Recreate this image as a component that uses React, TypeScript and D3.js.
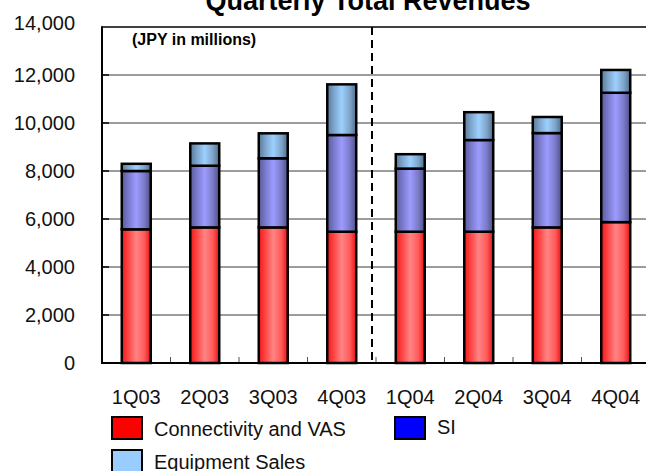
import React from "react";
import * as d3 from "d3";

const categories = ["1Q03", "2Q03", "3Q03", "4Q03", "1Q04", "2Q04", "3Q04", "4Q04"];
const connectivity = [5570, 5650, 5650, 5470, 5470, 5470, 5650, 5870];
const si = [2430, 2570, 2880, 4030, 2630, 3820, 3930, 5390];
const equipment = [300, 930, 1040, 2110, 600, 1160, 670, 950];
const yTicks = [0, 2000, 4000, 6000, 8000, 10000, 12000, 14000];

const seriesNames = ["Connectivity and VAS", "SI", "Equipment Sales"];
const W = 646, H = 471;
const FONT = "'Liberation Sans', Arial, Helvetica, sans-serif";

const gradDefs = [
  { id: "gRed", stops: ["#f01818", "#ff4a4a", "#ff8484", "#ff5a5a", "#e81010"] },
  { id: "gSI", stops: ["#5a5a98", "#7c7cd0", "#9c9cff", "#7a7ac8", "#4e4e88"] },
  { id: "gEq", stops: ["#5a7a98", "#80a8d0", "#9dd0ff", "#7ea4c8", "#4e6e8c"] },
];
const legendColors = ["#ff0000", "#0000ff", "#99ccff"];

export default function App() {
  const left = 102, right = 650, top = 27, bottom = 363;
  const x = d3.scaleBand<string>().domain(categories).range([left, right]).paddingInner(0.577).paddingOuter(0.2885);
  const y = d3.scaleLinear().domain([0, 14000]).range([bottom, top]);
  const data = categories.map((c, i) => ({ cat: c, conn: connectivity[i], si: si[i], eq: equipment[i] }));
  const stack = d3.stack<any>().keys(["conn", "si", "eq"])(data);
  const fills = ["url(#gRed)", "url(#gSI)", "url(#gEq)"];
  const step = x.step();
  const gap = (step - x.bandwidth()) / 2;
  const boundaries = categories.slice(1).map((c) => (x(c) as number) - gap);
  const dashX = (x(categories[4]) as number) - gap - 4;

  return (
    <svg width={W} height={H} style={{ position: "absolute", left: 0, top: 0, background: "#fff" }} fontFamily={FONT}>
      <defs>
        {gradDefs.map((g) => (
          <linearGradient key={g.id} id={g.id} x1="0" x2="1" y1="0" y2="0">
            {g.stops.map((s, i) => (
              <stop key={i} offset={[0, 0.25, 0.5, 0.78, 1][i]} stopColor={s} />
            ))}
          </linearGradient>
        ))}
      </defs>
      <text x={368} y={10} textAnchor="middle" fontSize={27} fontWeight="bold">Quarterly Total Revenues</text>
      {yTicks.filter((t) => t > 0 && t < 14000).map((t) => (
        <line key={t} x1={left} x2={W} y1={y(t)} y2={y(t)} stroke="#3a3a3a" strokeWidth={1} />
      ))}
      {yTicks.filter((t) => t > 0 && t < 14000).map((t) => (
        <line key={"k" + t} x1={left} x2={left + 7} y1={y(t)} y2={y(t)} stroke="#000" strokeWidth={1.5} />
      ))}
      <line x1={left} x2={W} y1={top} y2={top} stroke="#000" strokeWidth={1.5} />
      {boundaries.map((b, i) => (
        <line key={i} x1={b} x2={b} y1={bottom} y2={bottom - 6} stroke="#555" strokeWidth={1} />
      ))}
      <line x1={dashX} x2={dashX} y1={top} y2={bottom} stroke="#000" strokeWidth={2} strokeDasharray="8,5" />
      {stack.map((s, k) => (
        <g key={k}>
          {s.map((d: any, i: number) => (
            <rect key={i} x={x(categories[i])} y={y(d[1])} width={x.bandwidth()} height={y(d[0]) - y(d[1])}
              fill={fills[k]} stroke="#000" strokeWidth={2.5} />
          ))}
        </g>
      ))}
      <line x1={left} x2={left} y1={top - 0.75} y2={bottom + 1} stroke="#000" strokeWidth={2} />
      <line x1={left} x2={W} y1={bottom} y2={bottom} stroke="#000" strokeWidth={2} />
      {yTicks.map((t) => (
        <text key={t} x={75} y={y(t) - (t === 14000 ? 4 : 0)} dy="0.36em" textAnchor="end" fontSize={20} fill="#111">{d3.format(",")(t)}</text>
      ))}
      {categories.map((c) => (
        <text key={c} x={(x(c) as number) + x.bandwidth() / 2} y={397} dy="0.36em" textAnchor="middle" fontSize={20} fill="#111">{c}</text>
      ))}
      <text x={132} y={45} fontSize={16} fontWeight="bold">(JPY in millions)</text>
      {[{ x: 112, y: 417 }, { x: 395, y: 417 }, { x: 112, y: 450 }].map((p, i) => (
        <g key={i}>
          <rect x={p.x} y={p.y} width={30} height={22} fill={legendColors[i]} stroke="#000" strokeWidth={2} />
          <text x={p.x + 42} y={p.y + (i === 1 ? 9.5 : 12)} dy="0.36em" fontSize={20} fill="#111">{seriesNames[i]}</text>
        </g>
      ))}
    </svg>
  );
}
